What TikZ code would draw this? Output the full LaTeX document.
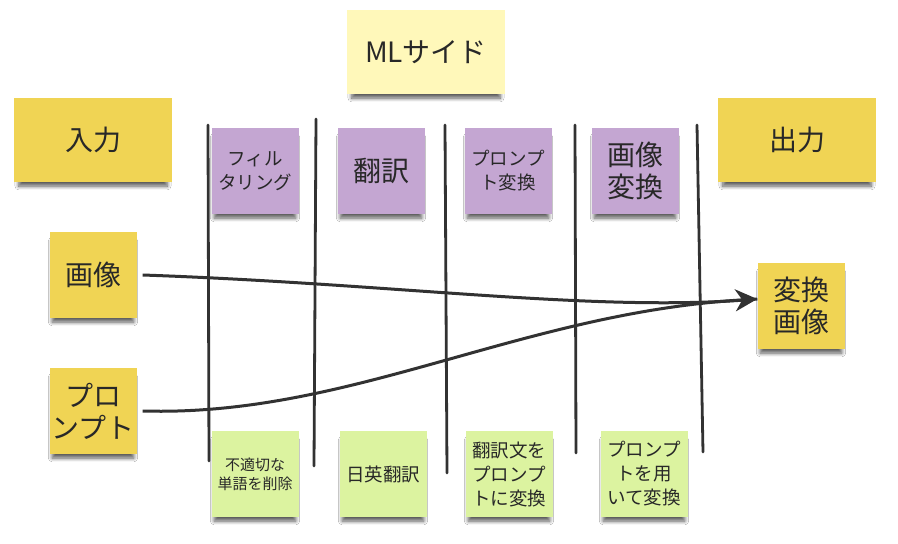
\documentclass[tikz,border=0pt]{standalone}
\usepackage{fontspec}
\setmainfont{Noto Sans CJK JP}
\usepackage{tikz}
\usetikzlibrary{arrows.meta,shadows.blur}
\definecolor{notetext}{RGB}{40,40,40}
\definecolor{yellownote}{RGB}{240,212,84}
\definecolor{palenote}{RGB}{255,248,186}
\definecolor{purplenote}{RGB}{196,166,210}
\definecolor{greennote}{RGB}{220,243,160}
\definecolor{laneline}{RGB}{50,50,50}
\tikzset{
  sticky/.style={text=notetext,align=center,inner sep=0pt,
    blur shadow={shadow xshift=0pt,shadow yshift=-7pt,shadow scale=0.94,
      shadow blur radius=4pt,shadow blur steps=8,shadow opacity=65}},
  wide/.style={sticky,minimum width=158,minimum height=84},
  square/.style={sticky,minimum width=87,minimum height=86},
  bigfont/.style={font=\fontsize{28}{32}\selectfont},
  midfont/.style={font=\fontsize{18.5}{24}\selectfont},
  tinyfont/.style={font=\fontsize{15}{19}\selectfont},
  lane/.style={laneline,line width=2.8pt,line cap=round},
  flow/.style={laneline,line width=3pt}
}
\newcommand{\laneline}[4]{%
  \draw[lane] (#1,#2) -- (#3,#4);%
}

\begin{document}
\begin{tikzpicture}[x=1pt,y=-1pt]
  \useasboundingbox[fill=white] (0,0) rectangle (898,544);
  % lanes
  \laneline{208}{125}{209}{461}
  \laneline{316}{119}{314}{466}
  \laneline{445}{125}{447}{473}
  \laneline{575}{125}{576}{453}
  \laneline{697}{125}{703}{452}
  % headers
  \node[wide,fill=palenote,bigfont] (mlside) at (426,52) {MLサイド};
  \node[wide,fill=yellownote,bigfont] (input) at (93,140) {入力};
  \node[wide,fill=yellownote,bigfont] (output) at (797,140) {出力};
  % steps
  \node[square,fill=purplenote,midfont] (filter) at (255,171) {フィル\\タリング};
  \node[square,fill=purplenote,bigfont] (trans) at (381,171) {翻訳};
  \node[square,fill=purplenote,midfont] (promptconv) at (508,171) {プロンプ\\ト変換};
  \node[square,fill=purplenote,bigfont] (imgconv) at (635,171) {画像\\変換};
  % details
  \node[square,fill=greennote,tinyfont] (filterdesc) at (255,474) {不適切な\\単語を削除};
  \node[square,fill=greennote,midfont] (transdesc) at (383,474) {日英翻訳};
  \node[square,fill=greennote,midfont] (promptdesc) at (509,474) {翻訳文を\\プロンプ\\トに変換};
  \node[square,fill=greennote,midfont] (imgdesc) at (644,474) {プロンプ\\トを用\\いて変換};
  % inputs and output
  \node[square,fill=yellownote,bigfont] (img) at (93,275) {画像};
  \node[square,fill=yellownote,bigfont] (prompt) at (93,411) {プロ\\ンプト};
  \node[square,fill=yellownote,bigfont] (result) at (801,306) {変換\\画像};
  % flows
  \draw[flow] ([xshift=6]img.east) .. controls (400,284) and (600,313) .. ([yshift=7]result.west);
  \draw[flow,-{Stealth[length=22pt,width=22pt,inset=7pt]}] ([xshift=6]prompt.east) .. controls (350,417) and (520,313) .. ([yshift=7]result.west);
\end{tikzpicture}
\end{document}
